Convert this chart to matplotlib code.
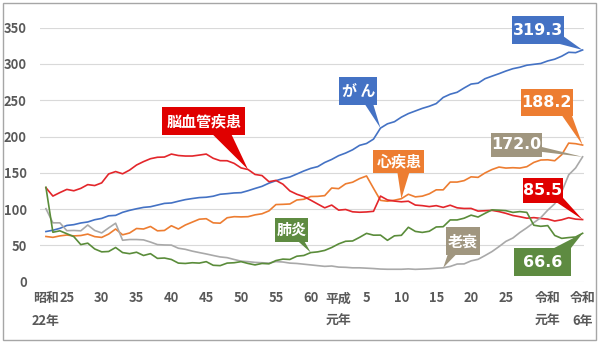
import matplotlib

matplotlib.use("Agg")
import matplotlib.pyplot as plt
import matplotlib.transforms as mtransforms
from matplotlib.patches import Polygon, Rectangle

# 死因別死亡率（人口10万対） 昭和22年(1947) ～ 令和6年(2024)
years = list(range(1947, 2025))

cancer = [
    69.0, 70.8, 73.4, 77.4, 78.5, 80.8, 82.2, 85.3, 87.1, 90.7,
    91.3, 95.5, 98.2, 100.4, 102.3, 103.2, 105.5, 107.8, 108.4, 110.8,
    113.0, 114.5, 115.8, 116.3, 117.7, 120.4, 121.2, 122.2, 122.6, 125.3,
    128.4, 131.3, 135.7, 139.1, 142.0, 144.2, 148.3, 152.5, 156.1, 158.5,
    164.2, 168.4, 173.6, 177.2, 181.7, 187.8, 190.4, 196.4, 211.6, 217.5,
    220.4, 226.7, 231.6, 235.2, 238.8, 241.7, 245.4, 253.9, 258.3, 261.0,
    266.9, 272.3, 273.5, 279.7, 283.2, 286.6, 290.3, 293.5, 295.5, 298.3,
    299.5, 300.7, 304.2, 306.6, 310.7, 316.1, 315.6, 319.3,
]

heart = [
    62.2, 61.0, 63.0, 64.2, 63.0, 63.5, 65.5, 62.0, 60.9, 65.5,
    72.5, 64.5, 67.0, 73.2, 72.5, 76.0, 70.0, 70.5, 77.0, 72.5,
    78.0, 82.0, 86.0, 86.7, 81.0, 80.5, 88.0, 89.5, 89.2, 89.5,
    92.0, 93.5, 97.5, 106.2, 106.5, 107.0, 112.5, 113.5, 117.3, 117.5,
    118.5, 129.0, 128.1, 134.8, 137.0, 142.0, 145.6, 128.6, 112.0, 110.8,
    112.2, 114.3, 120.4, 116.8, 117.8, 121.0, 126.5, 126.5, 137.2, 137.2,
    139.2, 144.4, 143.7, 149.8, 154.5, 157.9, 156.5, 157.0, 156.5, 158.4,
    164.3, 167.6, 167.9, 166.6, 174.9, 190.9, 190.1, 188.2,
]

stroke = [
    129.4, 117.9, 122.7, 127.1, 125.2, 128.5, 133.7, 132.4, 136.1, 148.4,
    151.7, 148.6, 153.7, 160.7, 165.4, 169.4, 171.4, 171.7, 175.8, 173.8,
    173.1, 173.1, 174.4, 175.8, 170.0, 166.7, 166.6, 163.0, 156.7, 154.5,
    147.7, 146.2, 137.7, 139.5, 134.3, 125.0, 120.4, 117.2, 112.2, 106.9,
    101.7, 105.5, 98.5, 99.4, 96.2, 95.6, 96.0, 96.9, 117.9, 112.6,
    111.0, 110.0, 110.8, 105.5, 104.7, 103.4, 104.7, 102.3, 105.3, 101.7,
    100.8, 100.9, 97.2, 97.7, 98.2, 96.5, 94.1, 91.1, 89.4, 87.4,
    88.2, 87.1, 86.1, 83.5, 85.2, 88.1, 86.1, 85.5,
]

pneumonia = [
    130.0, 68.0, 70.0, 66.0, 62.0, 51.0, 53.0, 45.0, 41.0, 41.5,
    47.0, 40.0, 38.5, 40.5, 36.0, 38.5, 32.0, 32.5, 30.5, 25.5,
    25.0, 26.0, 25.5, 27.5, 22.5, 22.0, 25.5, 26.0, 27.5, 25.0,
    23.0, 25.0, 24.5, 29.0, 31.0, 30.5, 35.0, 36.0, 40.0, 41.0,
    43.0, 47.0, 52.0, 55.6, 56.0, 61.0, 66.5, 64.0, 64.1, 56.9,
    63.1, 63.8, 74.9, 69.2, 67.8, 69.4, 75.3, 75.7, 85.0, 85.0,
    87.4, 91.6, 89.0, 94.1, 98.9, 98.4, 97.8, 95.4, 96.5, 95.4,
    77.7, 76.2, 77.2, 63.6, 59.6, 60.7, 61.5, 66.6,
]

senility = [
    100.5, 81.0, 81.0, 70.2, 70.5, 70.0, 78.0, 70.5, 67.1, 74.0,
    80.5, 57.0, 58.0, 58.0, 57.5, 54.5, 51.0, 50.5, 50.3, 46.0,
    44.5, 42.0, 40.0, 38.1, 36.0, 34.0, 33.0, 30.5, 28.2, 27.5,
    26.5, 26.0, 25.5, 27.6, 27.0, 25.5, 25.0, 24.0, 23.0, 22.0,
    21.0, 21.5, 20.0, 19.7, 19.0, 19.0, 18.5, 18.0, 17.3, 17.0,
    17.0, 17.0, 17.5, 16.9, 17.3, 17.7, 18.4, 19.0, 20.9, 24.2,
    24.4, 28.6, 30.7, 35.9, 41.4, 48.2, 55.5, 60.1, 67.7, 74.2,
    81.3, 88.2, 98.5, 107.3, 123.8, 147.1, 156.7, 172.0,
]

tick_years = [1947, 1950, 1955, 1960, 1965, 1970, 1975, 1980, 1985,
              1989, 1993, 1998, 2003, 2008, 2013, 2019, 2024]
tick_labels = ["昭和\n22年", "25", "30", "35", "40", "45", "50", "55", "60",
               "平成\n元年", "5", "10", "15", "20", "25", "令和\n元年", "令和\n6年"]

BLUE = "#4472C4"
ORANGE = "#ED7D31"
RED_LINE = "#E3262B"
RED_BOX = "#E00000"
GREEN_LINE = "#5A8C3A"
GREEN_BOX = "#5E8B41"
GREY_LINE = "#A9A9A9"
TAUPE_BOX = "#A0967F"

JP_FONT = ["Noto Sans CJK JP", "DejaVu Sans"]
NUM_FONT = ["DejaVu Sans"]


def pixel_transform(ax, x, y):
    # offsets in pixels measured from the data point (x, y)
    return mtransforms.Affine2D() + mtransforms.ScaledTranslation(x, y, ax.transData)


def callout(ax, x, y, text, color, box, base, font, size):
    dx, dy, w, h = box
    trans = pixel_transform(ax, x, y)
    tri = Polygon([base[0], base[1], (0, 0)], closed=True, transform=trans,
                  facecolor=color, edgecolor="none", clip_on=False, zorder=5)
    rect = Rectangle((dx - w / 2, dy - h / 2), w, h, transform=trans,
                     facecolor=color, edgecolor="none", clip_on=False, zorder=5)
    ax.add_patch(tri)
    ax.add_patch(rect)
    ax.text(dx, dy, text, transform=trans, ha="center", va="center",
            color="white", fontsize=size, fontweight="bold", family=font,
            zorder=6, clip_on=False)


def main():
    fig = plt.figure(figsize=(6, 3.45), dpi=100)
    fig.patch.set_facecolor("white")
    ax = fig.add_axes([40 / 600, 1 - 281.6 / 345, 544 / 600, 253.9 / 345])

    ax.plot(years, cancer, color=BLUE, linewidth=1.2)
    ax.plot(years, heart, color=ORANGE, linewidth=1.2)
    ax.plot(years, stroke, color=RED_LINE, linewidth=1.2)
    ax.plot(years, senility, color=GREY_LINE, linewidth=1.2)
    ax.plot(years, pneumonia, color=GREEN_LINE, linewidth=1.2)

    ax.set_xlim(1946.15, 2024.2)
    ax.set_ylim(0, 350)
    ax.set_yticks(range(0, 351, 50))
    ax.set_xticks(tick_years)
    ax.set_xticklabels(tick_labels, linespacing=1.75)
    for lab in ax.get_xticklabels() + ax.get_yticklabels():
        lab.set_family(JP_FONT)
        lab.set_fontweight("bold")
        lab.set_fontsize(9.3)
        lab.set_color("#595959")
    ax.tick_params(axis="both", length=0)
    ax.tick_params(axis="x", pad=7)
    ax.tick_params(axis="y", pad=9.5)

    ax.grid(axis="y", color="#D9D9D9", linewidth=0.8)
    ax.set_axisbelow(True)
    for side in ax.spines:
        ax.spines[side].set_visible(False)

    last = len(years) - 1
    i76 = years.index(1976)
    i95 = years.index(1995)
    i98 = years.index(1998)
    i85 = years.index(1985)
    i04 = years.index(2004)

    callout(ax, years[i76], stroke[i76], "脳血管疾患", RED_BOX,
            (-44.3, 48.4, 83, 28), [(-35.8, 35.5), (-16.8, 35.5)], JP_FONT, 10.8)
    callout(ax, years[i95], cancer[i95], "が ん", BLUE,
            (-22.2, 36.9, 38.3, 27.7), [(-15.7, 24), (-7.3, 24)], JP_FONT, 10.8)
    callout(ax, years[i98], heart[i98], "心疾患", ORANGE,
            (-2.6, 37.0, 50.7, 23.3), [(-4, 26.3), (8, 26.3)], JP_FONT, 10.8)
    callout(ax, years[i85], pneumonia[i85], "肺炎", GREEN_BOX,
            (-19.4, 22.6, 32.7, 23.4), [(-13.5, 12), (-6.8, 12)], JP_FONT, 10.8)
    callout(ax, years[i04], senility[i04], "老衰", TAUPE_BOX,
            (19.6, 26.6, 34.3, 27.7), [(4.8, 14), (13.5, 14)], JP_FONT, 10.8)

    callout(ax, years[last], cancer[last], f"{cancer[last]:.1f}", BLUE,
            (-44.6, 19.8, 52, 28), [(-26, 6.8), (-19.6, 14)], NUM_FONT, 11.4)
    callout(ax, years[last], heart[last], f"{heart[last]:.1f}", ORANGE,
            (-35.9, 42.5, 52, 27), [(-20.9, 30), (-10.9, 30)], NUM_FONT, 11.4)
    callout(ax, years[last], senility[last], f"{senility[last]:.1f}", TAUPE_BOX,
            (-66.1, 12.2, 51.6, 24), [(-41.3, 10), (-41.3, 5)], NUM_FONT, 11.4)
    callout(ax, years[last], stroke[last], f"{stroke[last]:.1f}", RED_BOX,
            (-39.6, 28.8, 40.6, 25.3), [(-25.9, 17.2), (-20.3, 22.5)], NUM_FONT, 11.4)
    callout(ax, years[last], pneumonia[last], f"{pneumonia[last]:.1f}", GREEN_BOX,
            (-40.2, -28.9, 56.7, 27.7), [(-30.9, -16), (-12.6, -16)], NUM_FONT, 11.4)

    # chart frame
    frame = Rectangle((3.3 / 600, 1 - 340 / 345), 592.7 / 600, 336.7 / 345,
                      transform=fig.transFigure, facecolor="none",
                      edgecolor="#A6A6A6", linewidth=1.0)
    fig.add_artist(frame)

    fig.savefig("out.png", dpi=100)


if __name__ == "__main__":
    main()
